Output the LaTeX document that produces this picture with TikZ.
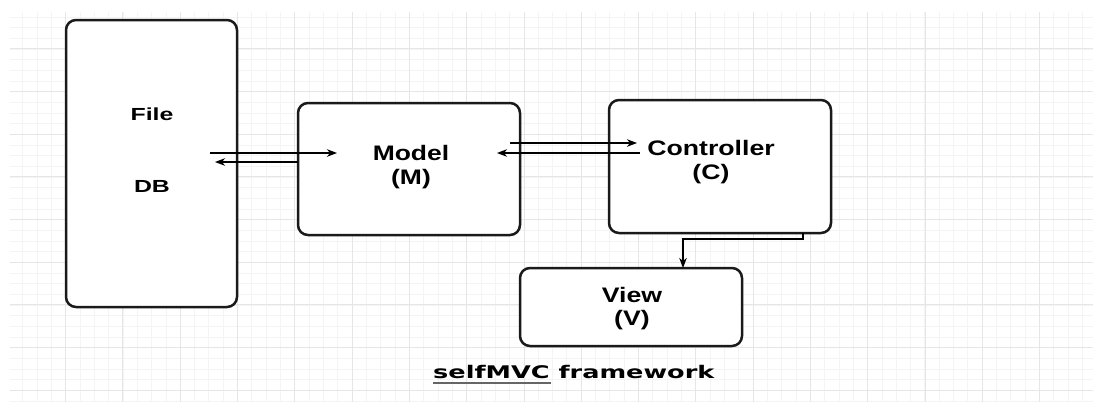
\documentclass[tikz,border=0pt]{standalone}
\usepackage{fontspec}
\setmainfont{Liberation Sans}
\newfontfamily\djv{DejaVu Sans}
\usetikzlibrary{arrows.meta}
\newcommand{\lbltxt}[3]{\scalebox{#2}[1]{\fontsize{#1}{#1}\selectfont\bfseries #3}}
\definecolor{gminor}{HTML}{F4F4F4}
\definecolor{gmajor}{HTML}{E6E6E6}
\definecolor{boxline}{HTML}{1A1A1A}
\tikzset{
  boxnode/.style={draw=boxline, line width=2.5pt, rounded corners=10pt, fill=white, inner sep=0pt, outer sep=0pt},
  lblnode/.style={inner sep=0pt, anchor=base},
  arr/.style={draw=black, line width=1.2pt, -{Stealth[length=10pt,width=7.5pt,inset=3pt]}},
  plainline/.style={draw=black, line width=1.2pt},
  gridminor/.style={draw=gminor, line width=0.8pt},
  gridmajor/.style={draw=gmajor, line width=1pt}
}
\begin{document}
\begin{tikzpicture}[x=1pt,y=-1pt]
\useasboundingbox (0,0) rectangle (1093,402);
\fill[white] (0,0) rectangle (1093,402);
% grid
\begin{scope}
\clip (10,12) rectangle (1093,402);
\foreach \i in {0,...,75} {\draw[gridminor] ({8.4+14.32*\i},12) -- ({8.4+14.32*\i},402);}
\foreach \j in {0,...,37} {\draw[gridminor] (10,{6.3+10.667*\j}) -- (1093,{6.3+10.667*\j});}
\foreach \i in {0,...,19} {\draw[gridmajor] ({8.4+57.29*\i},12) -- ({8.4+57.29*\i},402);}
\foreach \j in {0,...,9} {\draw[gridmajor] (10,{6.3+42.67*\j}) -- (1093,{6.3+42.67*\j});}
\end{scope}
% boxes
\node[boxnode, minimum width=171pt, minimum height=287pt] (file) at (151.5,163.5) {};
\node[boxnode, minimum width=222pt, minimum height=132pt] (model) at (409,169) {};
\node[boxnode, minimum width=222pt, minimum height=133pt] (ctrl) at (720,166.5) {};
\node[boxnode, minimum width=222pt, minimum height=78pt] (view) at (631,307) {};
% labels
\node[lblnode] (fileT) at (152,120) {\lbltxt{17.5}{1.42}{File}};
\node[lblnode] (dbT) at (152,192) {\lbltxt{17.5}{1.42}{DB}};
\node[lblnode] (modelT) at (411,160) {\lbltxt{21}{1.26}{Model}};
\node[lblnode] (modelM) at (411,184) {\lbltxt{21}{1.26}{(M)}};
\node[lblnode] (ctrlT) at (711,155) {\lbltxt{21}{1.27}{Controller}};
\node[lblnode] (ctrlC) at (711,179) {\lbltxt{21}{1.27}{(C)}};
\node[lblnode] (viewT) at (632,302) {\lbltxt{21}{1.27}{View}};
\node[lblnode] (viewV) at (632,325) {\lbltxt{21}{1.27}{(V)}};
\node[inner sep=0pt, anchor=base west] (title) at (433,378) {\scalebox{1.47}[1]{\djv\fontsize{17.4}{17.4}\selectfont\bfseries selfMVC framework}};
\draw[draw=gray!80!black, line width=2pt] (433,382.5) -- (551,382.5);
% connector points
\coordinate (a1s) at (210,153);
\coordinate (a1e) at (337,153);
\coordinate (a2s) at (298,162);
\coordinate (a2e) at (215,162);
\coordinate (a3s) at (510,143);
\coordinate (a3e) at (637,143);
\coordinate (a4s) at (640,153);
\coordinate (a4e) at (497,153);
% connectors
\draw[arr] (a1s) -- (a1e);
\draw[arr] (a2s) -- (a2e);
\draw[arr] (a3s) -- (a3e);
\draw[arr] (a4s) -- (a4e);
\draw[arr] ([xshift=83pt]ctrl.south) -- ++(0,6) -| ([xshift=52pt]view.north);
\end{tikzpicture}
\end{document}
